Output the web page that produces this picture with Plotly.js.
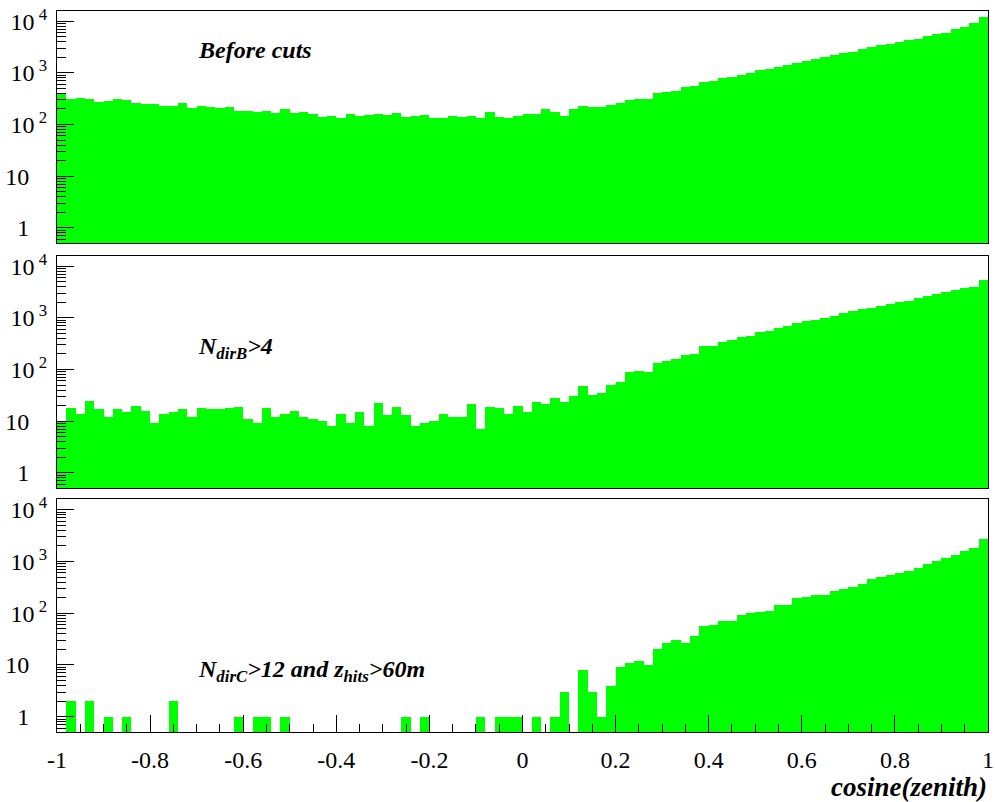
<!DOCTYPE html>
<html>
<head>
<meta charset="utf-8">
<script src="https://cdn.plot.ly/plotly-3.0.1.min.js"></script>
<style>
  html, body { margin: 0; padding: 0; background: #ffffff; }
  #chart { width: 995px; height: 802px; }
</style>
</head>
<body>
<div id="chart"></div>
<script>
// Histogram binning of cos(zenith): 100 bins from -1 to 1
const binLow = -1;
const binHigh = 1;
const nBins = 100;

// Event counts per bin, before any cut
const countsBeforeCuts = [
  402, 308, 327, 317, 274, 286, 317, 299, 259, 247,
  251, 230, 230, 259, 207, 226, 219, 213, 219, 186,
  186, 178, 180, 170, 198, 170, 172, 163, 141, 145,
  135, 161, 147, 153, 161, 156, 165, 141, 145, 156,
  136, 131, 143, 138, 147, 135, 173, 141, 135, 149,
  163, 163, 201, 178, 147, 198, 226, 219, 216, 240,
  258, 299, 313, 313, 402, 424, 446, 525, 557, 666,
  696, 795, 831, 908, 978, 1135, 1169, 1297, 1395, 1572,
  1718, 1822, 2020, 2176, 2414, 2561, 2884, 3105, 3443, 3655,
  3939, 4239, 4563, 5139, 5612, 5970, 6918, 7662, 9020, 12130
];

// Event counts per bin after N_dirB > 4
const countsDirB = [
  10, 18, 14, 25, 17, 12, 17, 15, 20, 16,
  9, 14, 15, 17, 12, 18, 17, 17, 18, 19,
  11, 9, 18, 12, 14, 16, 12, 11, 10, 8,
  14, 9, 15, 8, 22, 13, 19, 13, 8, 9,
  10, 14, 12, 12, 21, 7, 19, 18, 14, 20,
  15, 23, 21, 28, 23, 31, 48, 32, 35, 51,
  57, 89, 92, 89, 133, 145, 161, 189, 198, 279,
  287, 343, 370, 422, 448, 520, 552, 640, 700, 788,
  862, 888, 1000, 1077, 1250, 1327, 1494, 1562, 1683, 1866,
  1982, 2164, 2474, 2625, 2871, 3140, 3431, 3697, 4040, 5357
];

// Event counts per bin after N_dirC > 12 and z_hits > 60 m
const countsDirCZhits = [
  0, 2, 0, 2, 0, 1, 0, 1, 0, 0,
  0, 0, 2, 0, 0, 0, 0, 0, 0, 1,
  0, 1, 1, 0, 1, 0, 0, 0, 0, 0,
  0, 0, 0, 0, 0, 0, 0, 1, 0, 1,
  0, 0, 0, 0, 0, 1, 0, 1, 1, 1,
  0, 1, 0, 1, 3, 0, 8, 3, 1, 4,
  9, 11, 12, 10, 20, 26, 30, 26, 37, 56,
  60, 70, 70, 93, 99, 106, 108, 141, 145, 193,
  205, 220, 227, 263, 288, 325, 371, 457, 493, 539,
  589, 654, 737, 907, 1008, 1186, 1357, 1575, 1856, 2693
];

// Panel captions
const panelLabels = [
  '<b><i>Before cuts</i></b>',
  '<b><i>N<sub>dirB</sub>&gt;4</i></b>',
  '<b><i>N<sub>dirC</sub>&gt;12 and z<sub>hits</sub>&gt;60m</i></b>'
];

// Axis tick labels
const yTickVals = [1, 10, 100, 1000, 10000];
const yTickText = ['1\u00a0\u00a0\u00a0', '10\u00a0\u00a0\u00a0', '10<sup>\u00a02</sup>', '10<sup>\u00a03</sup>', '10<sup>\u00a04</sup>'];
const xTickVals = [-1, -0.8, -0.6, -0.4, -0.2, 0, 0.2, 0.4, 0.6, 0.8, 1];
const xTickText = ['-1', '-0.8', '-0.6', '-0.4', '-0.2', '0', '0.2', '0.4', '0.6', '0.8', '1'];
const xAxisTitle = '<b><i>cosine(zenith)</i></b>';

// Bin centres
const binWidth = (binHigh - binLow) / nBins;
const binCenters = [];
for (let i = 0; i < nBins; i++) binCenters.push(+(binLow + (i + 0.5) * binWidth).toFixed(4));

// Log-axis minor ticks: 2..9 in every decade, plus the part below 1
const yMinorVals = [0.6, 0.7, 0.8, 0.9];
for (const dec of [1, 10, 100, 1000]) {
  for (let k = 2; k <= 9; k++) yMinorVals.push(k * dec);
}

const serif = 'Liberation Serif, Times New Roman, Times, serif';
const green = '#00ff00';

const series = [countsBeforeCuts, countsDirB, countsDirCZhits];
const axisIds = [['x', 'y'], ['x2', 'y2'], ['x3', 'y3']];

const traces = series.map((counts, k) => ({
  type: 'bar',
  x: binCenters,
  y: counts,
  width: binWidth,
  marker: { color: green, line: { width: 0 } },
  xaxis: axisIds[k][0],
  yaxis: axisIds[k][1],
  hoverinfo: 'x+y',
  showlegend: false
}));

// Vertical layout of the three pads (paper fractions)
const yDomains = [[0.6782, 1.0], [0.3384, 0.6602], [0.0, 0.3225]];
const yRangeLog = [-0.295, 4.197];

function yAxis(domain, xId) {
  return {
    type: 'log',
    domain: domain,
    anchor: xId,
    range: yRangeLog,
    tickmode: 'array',
    tickvals: yTickVals,
    ticktext: yTickText,
    ticks: 'inside',
    ticklen: 17,
    tickwidth: 1,
    tickcolor: '#000',
    minor: { ticks: 'inside', ticklen: 9, tickwidth: 1, tickcolor: '#000', tickmode: 'array', tickvals: yMinorVals, showgrid: false },
    tickfont: { family: serif, size: 24, color: '#000' },
    ticklabelstandoff: 4,
    showline: true,
    mirror: true,
    linecolor: '#000',
    linewidth: 1,
    showgrid: false,
    zeroline: false,
    fixedrange: true
  };
}

function xAxis(yId, withTicks) {
  const ax = {
    range: [binLow, binHigh],
    anchor: yId,
    showline: true,
    mirror: true,
    linecolor: '#000',
    linewidth: 1,
    showgrid: false,
    zeroline: false,
    fixedrange: true
  };
  if (withTicks) {
    Object.assign(ax, {
      tickmode: 'array',
      tickvals: xTickVals,
      ticktext: xTickText,
      ticks: 'inside',
      ticklen: 17,
      tickwidth: 1,
      tickcolor: '#000',
      minor: { ticks: 'inside', ticklen: 8, tickwidth: 1, tickcolor: '#000', dtick: 0.05, tick0: 0, showgrid: false },
      tickfont: { family: serif, size: 24, color: '#000' },
      ticklabelstandoff: 6
    });
  } else {
    Object.assign(ax, { ticks: '', showticklabels: false });
  }
  return ax;
}

const labelY = [0.946, 0.5326, 0.0845];
const annotations = panelLabels.map((t, k) => ({
  text: t,
  xref: 'paper', yref: 'paper',
  x: 0.1504, y: labelY[k],
  xanchor: 'left', yanchor: 'middle',
  showarrow: false,
  borderpad: 0,
  font: { family: serif, size: 24, color: '#000' }
}));
annotations.push({
  text: xAxisTitle,
  xref: 'paper', yref: 'paper',
  x: 1.0, y: -0.0763,
  xanchor: 'right', yanchor: 'middle',
  showarrow: false,
  borderpad: 0,
  font: { family: serif, size: 27, color: '#000' }
});

const layout = {
  width: 995,
  height: 802,
  margin: { l: 57, r: 7, t: 11, b: 70 },
  paper_bgcolor: '#ffffff',
  plot_bgcolor: '#ffffff',
  bargap: 0,
  showlegend: false,
  font: { family: serif, color: '#000' },
  xaxis: xAxis('y', false),
  yaxis: yAxis(yDomains[0], 'x'),
  xaxis2: xAxis('y2', false),
  yaxis2: yAxis(yDomains[1], 'x2'),
  xaxis3: xAxis('y3', true),
  yaxis3: yAxis(yDomains[2], 'x3'),
  annotations: annotations
};

Plotly.newPlot('chart', traces, layout, { displayModeBar: false, staticPlot: true });
</script>
</body>
</html>
